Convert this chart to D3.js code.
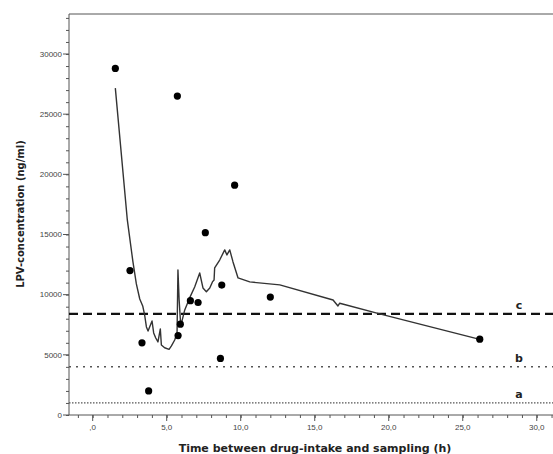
<!DOCTYPE html>
<html>
<head>
<meta charset="utf-8">
<script src="https://cdn.jsdelivr.net/npm/d3@7"></script>
<style>
  body { margin: 0; background: #fff; }
  svg { display: block; font-family: "DejaVu Sans", Verdana, sans-serif; }
</style>
</head>
<body>
<div id="chart"></div>
<script>
// observed samples: hours after intake, LPV concentration
const sampleTime = [1.53, 5.72, 9.59, 7.61, 2.52, 8.72, 12.0, 6.6, 7.12, 5.92, 5.77, 3.33, 3.78, 8.63, 26.15];
const sampleConc = [28800, 26500, 19100, 15150, 12000, 10800, 9800, 9500, 9350, 7550, 6600, 6000, 2000, 4700, 6300];

// fitted curve
const curveTime = [1.53, 2.34, 2.72, 2.95, 3.18, 3.38, 3.51, 3.63, 3.74, 4.01, 4.12, 4.26, 4.41, 4.57, 4.64,
  4.86, 5.16, 5.32, 5.54, 5.70, 5.76, 5.84, 5.95, 6.22, 6.55, 6.89, 7.23, 7.45, 7.68, 7.91, 8.09, 8.20,
  8.24, 8.58, 8.92, 9.07, 9.26, 9.48, 9.82, 10.61, 12.64, 16.24, 16.57, 16.69, 19.39, 26.15];
const curveConc = [27160, 16210, 12720, 10890, 9640, 9060, 8310, 7315, 6980, 7810, 6820, 6400, 6070, 7150, 5820,
  5590, 5460, 5740, 6230, 6820, 12050, 9560, 7400, 8730, 9730, 10640, 11800, 10560, 10250, 10560, 11060, 11220,
  12220, 12880, 13720, 13300, 13720, 12720, 11390, 11060, 10810, 9560, 9060, 9290, 8400, 6290];

// reference levels
const refNames = ["a", "b", "c"];
const refValues = [1000, 4000, 8400];

const xMajor = [0, 5, 10, 15, 20, 25, 30];
const yMajor = [0, 5000, 10000, 15000, 20000, 25000, 30000];

const width = 553, height = 454;
const plotLeft = 69, plotRight = 556, plotTop = 14, plotBottom = 415;

const svg = d3.select("#chart").append("svg")
  .attr("width", width)
  .attr("height", height);

const x = d3.scaleLinear().domain([-1.6, 31.3]).range([plotLeft, plotRight]);
const y = d3.scaleLinear().domain([0, 30000]).range([plotBottom, 54]);

// frame line on top
svg.append("line")
  .attr("x1", plotLeft).attr("x2", width)
  .attr("y1", plotTop).attr("y2", plotTop)
  .attr("stroke", "#555").attr("stroke-width", 1);

// y axis
const yAxisG = svg.append("g").attr("transform", `translate(${plotLeft},0)`);
yAxisG.call(d3.axisLeft(y).tickValues(d3.range(0, 33001, 1000)).tickSize(3).tickFormat(""));
yAxisG.call(g => g.select(".domain").remove());
yAxisG.selectAll(".tick line").attr("stroke", "#555");
yAxisG.append("line").attr("x1", 0).attr("x2", 0).attr("y1", plotTop).attr("y2", plotBottom).attr("stroke", "#555");
yAxisG.selectAll(".major")
  .data(yMajor)
  .join("line")
  .attr("class", "major")
  .attr("x1", -6).attr("x2", 0)
  .attr("y1", d => y(d)).attr("y2", d => y(d))
  .attr("stroke", "#555");
yAxisG.selectAll(".lbl")
  .data(yMajor)
  .join("text")
  .attr("class", "lbl")
  .attr("x", -7)
  .attr("y", d => y(d))
  .attr("dy", "0.35em")
  .attr("text-anchor", "end")
  .attr("font-size", 8)
  .attr("fill", "#444")
  .text(d => d);

// x axis
const xAxisG = svg.append("g").attr("transform", `translate(0,${plotBottom})`);
xAxisG.call(d3.axisBottom(x).tickValues(d3.range(-1, 32, 1)).tickSize(3).tickFormat(""));
xAxisG.call(g => g.select(".domain").remove());
xAxisG.selectAll(".tick line").attr("stroke", "#555");
xAxisG.append("line").attr("x1", plotLeft).attr("x2", width).attr("y1", 0).attr("y2", 0).attr("stroke", "#555");
xAxisG.selectAll(".major")
  .data(xMajor)
  .join("line")
  .attr("class", "major")
  .attr("x1", d => x(d)).attr("x2", d => x(d))
  .attr("y1", 0).attr("y2", 6)
  .attr("stroke", "#555");
xAxisG.selectAll(".lbl")
  .data(xMajor)
  .join("text")
  .attr("class", "lbl")
  .attr("x", d => x(d))
  .attr("y", 15)
  .attr("text-anchor", "middle")
  .attr("font-size", 8)
  .attr("fill", "#444")
  .text(d => d === 0 ? ",0" : d3.format(".1f")(d).replace(".", ","));

// reference lines
const refDash = ["1.5,1.5", "2,5", "9,5"];
const refWidth = [1.2, 1.5, 2.2];
svg.selectAll(".ref")
  .data(refValues)
  .join("line")
  .attr("class", "ref")
  .attr("x1", plotLeft).attr("x2", width)
  .attr("y1", d => y(d)).attr("y2", d => y(d))
  .attr("stroke", (d, i) => i === 2 ? "#111" : "#555")
  .attr("stroke-width", (d, i) => refWidth[i])
  .attr("stroke-dasharray", (d, i) => refDash[i]);

svg.selectAll(".refLbl")
  .data(refValues)
  .join("text")
  .attr("class", "refLbl")
  .attr("x", 519)
  .attr("y", d => y(d) - 5)
  .attr("text-anchor", "middle")
  .attr("font-size", 11)
  .attr("font-weight", "bold")
  .attr("fill", "#222")
  .text((d, i) => refNames[i]);

// curve
const line = d3.line()
  .x((d, i) => x(curveTime[i]))
  .y(d => y(d));
svg.append("path")
  .attr("d", line(curveConc))
  .attr("fill", "none")
  .attr("stroke", "#333")
  .attr("stroke-width", 1.4)
  .attr("stroke-linejoin", "round");

// samples
svg.selectAll(".dot")
  .data(sampleConc)
  .join("circle")
  .attr("class", "dot")
  .attr("cx", (d, i) => x(sampleTime[i]))
  .attr("cy", d => y(d))
  .attr("r", 3.6)
  .attr("fill", "#000");

// axis titles
svg.append("text")
  .attr("transform", "translate(24,214) rotate(-90)")
  .attr("text-anchor", "middle")
  .attr("font-size", 10)
  .attr("font-weight", "bold")
  .attr("fill", "#222")
  .text("LPV-concentration (ng/ml)");

svg.append("text")
  .attr("x", 315)
  .attr("y", 452)
  .attr("text-anchor", "middle")
  .attr("font-size", 11)
  .attr("font-weight", "bold")
  .attr("fill", "#222")
  .text("Time between drug-intake and sampling (h)");
</script>
</body>
</html>
